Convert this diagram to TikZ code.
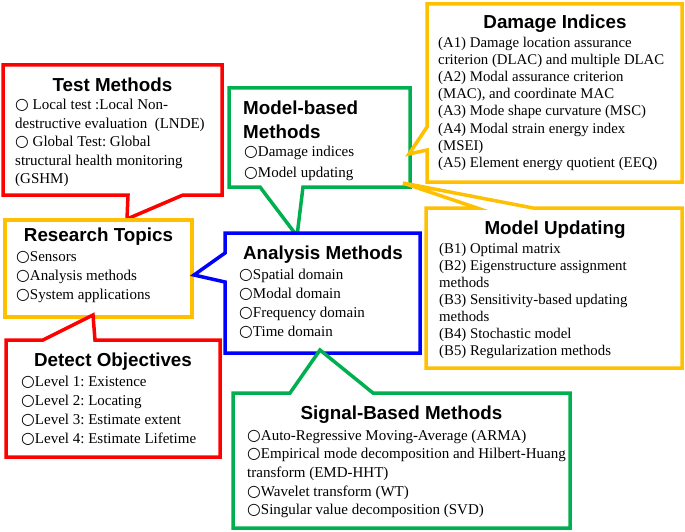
\documentclass[tikz,border=0pt]{standalone}
\usepackage{fontspec}
\setmainfont{Liberation Serif}
\newfontfamily\titlefont{Liberation Sans}
\newfontfamily\circfont{DejaVu Sans}[Scale=1.05]
\newcommand\oc{{\circfont ○}}
\definecolor{cred}{RGB}{255,0,0}
\definecolor{cgold}{RGB}{255,192,0}
\definecolor{cgreen}{RGB}{0,176,80}
\definecolor{cblue}{RGB}{0,0,255}
\tikzset{
  ttl/.style={font=\titlefont\bfseries\fontsize{18.8}{20}\selectfont, inner sep=0pt, anchor=base},
  ttlw/.style={ttl, anchor=base west},
  bod/.style={font=\frenchspacing\fontsize{15}{17}\selectfont, inner sep=0pt, anchor=base west},
  bods/.style={font=\frenchspacing\fontsize{14.8}{17}\selectfont, inner sep=0pt, anchor=base west},
  callout/.style={line width=3.5pt, fill=white, line join=miter},
}
\begin{document}
\begin{tikzpicture}[x=1pt,y=-1pt]
\useasboundingbox (0,0) rectangle (685,532);
% ---------- Test Methods ----------
\draw[callout, draw=cred] (3,65) -- (222,65) -- (222,195) -- (183,195) -- (127,219) -- (128,195) -- (3,195) -- cycle;
\node[ttl] (tmT) at (112.5,91.5) {Test Methods};
\node[bod] (tm1) at (15,110) {\oc\ Local test :Local Non-};
\node[bod] (tm2) at (15,128.3) {destructive evaluation\ \ (LNDE)};
\node[bod] (tm3) at (15,146.6) {\oc\ Global Test: Global};
\node[bod] (tm4) at (15,165) {structural health monitoring};
\node[bod] (tm5) at (15,183.3) {(GSHM)};
% ---------- Research Topics ----------
\draw[callout, draw=cgold] (5,220) -- (192,220) -- (192,317) -- (5,317) -- cycle;
\node[ttl] (rtT) at (98.5,241.5) {Research Topics};
\node[bod] (rt1) at (16,261) {\oc Sensors};
\node[bod] (rt2) at (16,280) {\oc Analysis methods};
\node[bod] (rt3) at (16,299) {\oc System applications};
% ---------- Detect Objectives ----------
\draw[callout, draw=cred] (6,340) -- (43,340) -- (93,315) -- (95,340) -- (220,340) -- (220,457) -- (6,457) -- cycle;
\node[ttl] (doT) at (113,366.5) {Detect Objectives};
\node[bod] (do1) at (21,386) {\oc Level 1: Existence};
\node[bod] (do2) at (21,405) {\oc Level 2: Locating};
\node[bod] (do3) at (21,424) {\oc Level 3: Estimate extent};
\node[bod] (do4) at (21,443) {\oc Level 4: Estimate Lifetime};
% ---------- Model-based Methods ----------
\draw[callout, draw=cgreen] (229,88) -- (410,88) -- (410,187) -- (303,187) -- (297,236) -- (260,187) -- (229,187) -- cycle;
\node[ttlw] (mbT1) at (243,114.5) {Model-based};
\node[ttlw] (mbT2) at (243,138.5) {Methods};
\node[bod] (mb1) at (244,157) {\oc Damage indices};
\node[bod] (mb2) at (244,177) {\oc Model updating};
% ---------- Analysis Methods ----------
\draw[callout, draw=cblue] (225,233) -- (420,233) -- (420,353) -- (225,353) -- (225,282) -- (194,275) -- (225,253) -- cycle;
\node[ttl] (amT) at (323,259.5) {Analysis Methods};
\node[bod] (am1) at (239,279) {\oc Spatial domain};
\node[bod] (am2) at (239,298) {\oc Modal domain};
\node[bod] (am3) at (239,317) {\oc Frequency domain};
\node[bod] (am4) at (239,336) {\oc Time domain};
% ---------- Damage Indices ----------
\draw[callout, draw=cgold] (427,4) -- (682,4) -- (682,182) -- (427,182) -- (427,150) -- (409,154) -- (427,127) -- cycle;
\node[ttl] (diT) at (555,28.5) {Damage Indices};
\node[bods] (di1) at (438,48) {(A1) Damage location assurance};
\node[bods] (di2) at (438,65) {criterion (DLAC) and multiple DLAC};
\node[bods] (di3) at (438,82) {(A2) Modal assurance criterion};
\node[bods] (di4) at (438,99) {(MAC), and coordinate MAC};
\node[bods] (di5) at (438,116) {(A3) Mode shape curvature (MSC)};
\node[bods] (di6) at (438,133) {(A4) Modal strain energy index};
\node[bods] (di7) at (438,150) {(MSEI)};
\node[bods] (di8) at (438,167) {(A5) Element energy quotient (EEQ)};
% ---------- Model Updating ----------
\draw[callout, draw=cgold] (426,208) -- (477,208) -- (403,183) -- (533,208) -- (682,208) -- (682,368) -- (426,368) -- cycle;
\node[ttl] (muT) at (555,234.5) {Model Updating};
\node[bods] (mu1) at (439,253) {(B1) Optimal matrix};
\node[bods] (mu2) at (439,270) {(B2) Eigenstructure assignment};
\node[bods] (mu3) at (439,287) {methods};
\node[bods] (mu4) at (439,304) {(B3) Sensitivity-based updating};
\node[bods] (mu5) at (439,321) {methods};
\node[bods] (mu6) at (439,338) {(B4) Stochastic model};
\node[bods] (mu7) at (439,355) {(B5) Regularization methods};
% ---------- Signal-Based Methods ----------
\draw[callout, draw=cgreen] (233,393) -- (290,393) -- (320,350) -- (373,393) -- (570,393) -- (570,528) -- (233,528) -- cycle;
\node[ttl] (sbT) at (401.5,419.5) {Signal-Based Methods};
\node[bod] (sb1) at (247,440) {\oc Auto-Regressive Moving-Average (ARMA)};
\node[bod] (sb2) at (247,458.7) {\oc Empirical mode decomposition and Hilbert-Huang};
\node[bod] (sb3) at (247,477.4) {transform (EMD-HHT)};
\node[bod] (sb4) at (247,496.1) {\oc Wavelet transform (WT)};
\node[bod] (sb5) at (247,514.8) {\oc Singular value decomposition (SVD)};
\end{tikzpicture}
\end{document}
